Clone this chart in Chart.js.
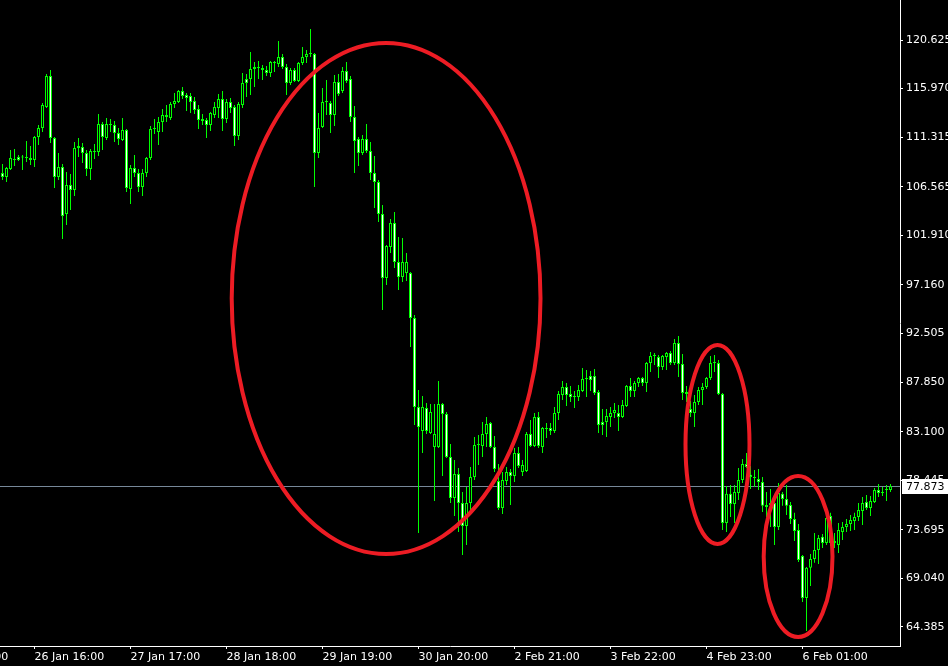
<!DOCTYPE html>
<html><head><meta charset="utf-8">
<script src="https://cdn.jsdelivr.net/npm/chart.js@4.4.1/dist/chart.umd.min.js"></script>
<style>html,body{margin:0;padding:0;background:#000;}canvas{display:block;background:#000;}</style>
</head><body>
<canvas id="c" width="948" height="666"></canvas>
<script>
const opens = [107.89,107.50,108.27,109.23,109.42,109.42,109.32,109.13,109.13,111.34,112.20,114.21,117.18,111.24,107.50,108.46,103.96,106.74,106.26,110.28,
110.38,109.80,108.27,109.99,109.90,112.58,111.24,112.49,112.49,111.72,111.05,112.01,106.35,108.37,107.89,106.55,107.89,109.32,112.10,111.81,
112.77,113.25,113.16,114.50,114.69,115.74,115.36,115.26,114.78,114.02,113.06,112.96,112.49,113.44,114.11,114.98,113.06,114.69,114.21,111.43,
114.40,116.89,116.89,118.04,117.95,117.75,117.75,117.47,118.43,118.33,119.00,118.04,116.51,117.75,116.70,118.43,119.00,119.29,119.29,109.80,
112.29,114.69,114.59,113.44,116.60,115.74,117.66,116.89,113.25,111.14,109.80,111.14,109.99,107.89,107.02,103.96,97.83,100.80,103.10,99.36,
97.92,98.31,98.31,94.00,85.47,83.17,85.37,82.98,81.64,81.64,85.76,84.80,80.68,76.75,79.05,76.27,74.07,76.27,78.76,81.83,
81.73,82.88,83.94,81.64,78.38,75.79,78.38,79.24,78.86,81.06,79.24,79.34,82.88,81.73,84.51,81.64,83.36,83.46,83.17,84.89,
86.62,87.39,86.72,86.43,86.43,87.00,88.15,88.44,88.44,86.91,84.03,84.03,84.51,84.89,84.89,84.51,85.57,87.48,87.00,87.77,
88.25,87.77,89.69,90.36,90.26,89.30,90.26,90.64,89.69,91.60,89.59,86.91,85.28,84.89,85.95,87.10,87.39,88.25,89.69,89.69,
86.72,74.36,77.14,76.18,77.23,78.48,80.01,78.96,78.67,78.57,78.28,76.08,76.08,76.27,73.97,77.14,76.66,76.08,74.74,73.69,
71.19,67.17,70.05,70.91,71.77,73.02,72.44,75.03,72.44,72.25,73.49,73.97,74.26,74.55,74.93,75.51,76.37,75.79,76.37,77.52,
77.33,77.52,77.52];
const highs = [108.75,108.46,110.09,110.19,109.61,109.61,110.95,110.47,111.43,112.49,114.59,117.37,117.75,111.34,109.80,108.75,107.98,107.79,110.86,111.24,
110.76,110.09,110.19,110.67,113.54,112.77,113.16,113.06,112.87,112.20,113.16,112.10,108.65,109.61,108.27,108.27,109.42,112.39,113.06,113.25,
114.02,114.40,114.69,115.55,115.84,116.13,115.55,115.55,115.17,114.40,113.54,113.16,113.73,114.69,115.46,115.74,114.98,115.07,114.40,114.69,
117.47,117.37,119.48,118.52,118.62,118.23,118.14,118.62,118.62,120.53,119.29,118.33,117.95,117.95,118.52,119.96,119.67,121.68,119.38,113.64,
116.03,116.80,114.78,117.28,117.37,118.04,118.52,117.18,114.31,111.34,111.53,112.58,110.86,109.51,107.22,104.82,100.99,103.48,104.15,101.76,
101.66,100.22,98.40,94.28,87.10,86.52,85.85,85.76,85.76,87.96,85.85,84.99,81.93,80.39,79.63,77.33,77.81,79.72,82.60,82.79,
84.03,84.51,84.03,82.69,80.01,79.24,79.72,79.53,81.54,81.64,80.39,83.07,84.22,84.89,84.99,83.55,83.94,83.94,85.47,87.00,
87.96,87.77,87.48,87.00,87.58,89.21,89.01,88.92,89.11,87.10,85.28,85.28,85.47,85.85,85.66,86.14,87.58,88.25,87.96,88.34,
88.34,89.78,90.74,90.64,90.45,90.45,90.74,90.83,91.98,92.27,90.55,87.48,86.04,86.62,87.39,87.77,88.34,90.36,90.45,89.97,
86.81,77.90,78.00,78.00,79.63,80.49,81.06,79.82,79.43,79.53,78.76,77.33,77.61,76.94,78.19,77.33,78.00,76.37,75.32,74.26,
71.29,70.14,71.39,73.40,73.21,73.30,75.32,75.32,73.40,74.36,74.45,74.74,75.12,75.32,76.27,76.85,77.04,76.94,77.71,78.09,
77.81,78.00,78.09];
const lows = [107.22,107.02,108.17,108.56,109.04,108.17,108.94,108.65,108.46,110.57,111.81,114.11,110.76,106.45,107.22,101.56,102.91,104.34,105.68,109.42,
108.85,107.60,107.22,109.23,109.52,110.09,111.05,111.81,110.86,110.57,110.95,106.07,104.92,107.50,106.07,105.68,107.50,109.13,111.62,110.57,
111.81,112.77,112.96,114.11,114.59,114.98,113.83,113.64,113.54,112.10,112.49,111.24,111.91,113.16,113.16,111.91,112.68,113.64,110.47,111.05,
114.11,115.17,115.36,116.13,116.89,116.80,117.18,117.08,117.56,118.04,117.85,115.36,116.32,116.60,116.60,118.23,118.43,119.00,106.55,109.32,
112.20,113.44,111.72,112.39,115.26,115.55,116.51,112.77,107.89,108.56,109.61,109.80,107.22,104.53,103.19,94.76,97.16,100.22,98.79,96.68,
97.44,97.54,91.22,83.75,73.40,81.06,82.88,82.88,76.46,81.54,78.86,80.58,76.27,75.03,73.49,71.29,72.25,75.32,78.48,79.91,
80.68,81.64,81.54,79.24,75.60,75.22,78.00,76.08,78.28,79.63,78.86,79.24,81.64,81.64,81.54,81.06,82.50,82.79,82.98,84.22,
86.14,85.57,85.95,85.37,86.04,86.91,86.43,87.00,86.62,82.98,82.79,82.60,83.55,84.42,83.17,84.42,85.47,86.43,86.43,87.39,
87.48,86.91,88.82,89.49,88.25,89.01,89.01,89.49,89.49,88.34,86.14,85.95,84.51,83.55,85.66,85.66,87.19,88.06,88.82,86.62,
73.69,73.49,74.93,74.36,76.56,78.19,79.63,77.61,77.81,77.52,75.41,74.93,73.97,72.25,73.69,75.99,75.12,74.26,72.63,70.62,
66.79,64.01,68.32,70.53,70.43,71.96,72.25,72.15,71.96,71.48,72.73,73.49,73.59,73.69,74.55,74.16,75.60,75.03,76.27,76.85,
76.94,76.46,77.33];
const closes = [107.50,108.37,109.32,109.13,109.13,109.37,109.42,109.32,111.34,112.20,114.40,117.18,111.24,107.50,108.46,103.77,106.74,106.26,110.28,110.47,
109.80,108.27,109.99,109.90,112.58,111.34,112.58,112.53,111.72,111.14,112.01,106.45,108.37,107.89,106.55,107.89,109.32,112.10,112.20,112.77,
113.44,113.44,114.50,114.78,115.74,115.26,115.07,114.69,113.92,112.96,112.87,112.49,113.64,114.21,114.98,113.06,114.69,114.11,111.43,114.50,
116.51,116.51,117.85,117.85,117.99,117.95,117.47,118.52,118.47,119.00,118.04,116.51,117.75,116.70,118.43,119.00,119.29,119.33,109.80,112.20,
114.69,114.74,113.44,116.60,115.46,117.66,116.70,113.25,110.95,109.80,111.14,109.99,107.89,107.02,103.96,97.83,100.89,103.10,99.36,97.92,
99.36,99.36,94.00,85.47,83.55,85.47,83.17,84.99,82.88,85.76,84.80,80.68,76.75,79.05,76.27,74.07,76.27,78.76,81.83,81.93,
82.88,83.84,81.64,79.53,75.79,78.48,79.24,78.86,81.06,79.82,79.91,82.88,81.73,84.51,81.73,83.46,83.46,83.17,84.89,86.72,
87.39,86.62,86.43,86.47,87.10,88.15,88.20,88.06,86.81,83.75,83.75,84.61,84.89,85.18,84.51,85.66,87.48,87.00,87.77,88.25,
87.77,89.69,90.36,90.40,89.30,90.36,90.64,89.69,91.60,89.59,86.81,86.72,84.89,85.95,87.10,87.39,88.25,89.69,89.73,86.72,
74.36,77.14,76.18,77.33,78.48,80.01,79.72,78.76,78.71,78.28,75.99,75.89,76.27,73.97,77.23,76.66,75.99,74.74,73.59,70.81,
67.17,70.05,70.91,71.77,72.92,72.44,74.84,72.44,72.63,73.69,73.97,74.26,74.64,74.93,75.60,76.27,75.79,76.46,77.52,77.23,
77.23,77.61,77.873];

const xTickIndex = [-16, 8, 32, 56, 80, 104, 128, 152, 176, 200];
const xTickLabels = ['23 Jan 15:00','26 Jan 16:00','27 Jan 17:00','28 Jan 18:00','29 Jan 19:00','30 Jan 20:00','2 Feb 21:00','3 Feb 22:00','4 Feb 23:00','6 Feb 01:00'];
const yTickValues = [120.625,115.970,111.315,106.565,101.910,97.160,92.505,87.850,83.100,78.445,73.695,69.040,64.385];
const currentPrice = 77.873;

// hand-drawn ellipses (bar index / price units)
const ellipseCx = [95.9, 178.75, 198.9];
const ellipseCy = [95.86, 81.87, 71.14];
const ellipseRx = [38.6, 8.0, 8.6];
const ellipseRy = [24.48, 9.53, 7.71];

const FONT = {family: '"DejaVu Sans"', size: 11};
const idx = opens.map((_, i) => i);

function noPad(s) {
  s.paddingLeft = 0; s.paddingRight = 0; s.paddingTop = 0; s.paddingBottom = 0;
}

const overlay = {
  id: 'overlay',
  beforeDatasetsDraw(chart) {
    const {ctx, chartArea: a, scales: {y}} = chart;
    const py = Math.round(y.getPixelForValue(currentPrice)) + 0.5;
    ctx.save();
    ctx.strokeStyle = '#778899';
    ctx.lineWidth = 1;
    ctx.beginPath();
    ctx.moveTo(a.left, py);
    ctx.lineTo(a.right, py);
    ctx.stroke();
    ctx.restore();
  },
  afterDatasetsDraw(chart) {
    const {ctx, scales: {x, y}} = chart;
    ctx.save();
    ctx.strokeStyle = 'rgb(237,28,36)';
    ctx.lineWidth = 4;
    for (let k = 0; k < ellipseCx.length; k++) {
      const cx = x.getPixelForValue(ellipseCx[k]);
      const cy = y.getPixelForValue(ellipseCy[k]);
      const rx = Math.abs(x.getPixelForValue(ellipseCx[k] + ellipseRx[k]) - cx);
      const ry = Math.abs(y.getPixelForValue(ellipseCy[k] + ellipseRy[k]) - cy);
      ctx.beginPath();
      ctx.ellipse(cx, cy, rx, ry, 0, 0, Math.PI * 2);
      ctx.stroke();
    }
    ctx.restore();
  },
  afterDraw(chart) {
    const {ctx, chartArea: a, scales: {y}} = chart;
    const py = Math.round(y.getPixelForValue(currentPrice));
    ctx.save();
    ctx.fillStyle = '#ffffff';
    ctx.fillRect(a.right + 2, py - 7, 48, 15);
    ctx.fillStyle = '#000000';
    ctx.font = '11px "DejaVu Sans"';
    ctx.textBaseline = 'middle';
    ctx.textAlign = 'left';
    ctx.fillText(currentPrice.toFixed(3), a.right + 6, py + 1);
    ctx.restore();
  }
};

new Chart(document.getElementById('c'), {
  type: 'bar',
  data: {
    datasets: [
      {
        label: 'body',
        data: idx.map(i => ({x: i, y: [opens[i], closes[i]]})),
        backgroundColor: idx.map(i => closes[i] >= opens[i] ? '#000000' : '#ffffff'),
        borderColor: '#00ff00',
        borderWidth: 1,
        borderSkipped: false,
        grouped: false,
        categoryPercentage: 1,
        barPercentage: 0.75,
        minBarLength: 1,
        inflateAmount: 0,
        order: 0
      },
      {
        label: 'wick',
        data: idx.map(i => ({x: i, y: [lows[i], highs[i]]})),
        backgroundColor: '#00ff00',
        borderWidth: 0,
        grouped: false,
        categoryPercentage: 1,
        barPercentage: 0.25,
        minBarLength: 1,
        inflateAmount: 0,
        order: 1
      }
    ]
  },
  options: {
    responsive: false,
    animation: false,
    devicePixelRatio: 1,
    events: [],
    layout: {padding: 0, autoPadding: false},
    plugins: {legend: {display: false}, tooltip: {enabled: false}},
    scales: {
      x: {
        type: 'linear',
        min: -0.625,
        max: 224.375,
        offset: false,
        afterBuildTicks: s => { s.ticks = xTickIndex.map(v => ({value: v})); },
        afterFit: s => { s.height = 20; noPad(s); },
        ticks: {
          autoSkip: false, maxRotation: 0, minRotation: 0, align: 'start',
          color: '#ffffff', font: FONT, padding: 2,
          callback: v => { const k = xTickIndex.indexOf(v); return k >= 0 ? xTickLabels[k] : ''; }
        },
        grid: {drawOnChartArea: false, drawTicks: true, tickLength: 3, color: '#ffffff', offset: false},
        border: {display: true, color: '#ffffff', width: 1}
      },
      y: {
        type: 'linear',
        position: 'right',
        min: 62.5645,
        max: 124.4575,
        afterBuildTicks: s => { s.ticks = yTickValues.map(v => ({value: v})); },
        afterFit: s => { s.width = 48; noPad(s); },
        ticks: {autoSkip: false, color: '#ffffff', font: FONT, padding: 3, callback: v => v.toFixed(3)},
        grid: {drawOnChartArea: false, drawTicks: true, tickLength: 3, color: '#ffffff'},
        border: {display: true, color: '#ffffff', width: 1}
      }
    }
  },
  plugins: [overlay]
});
</script>
</body></html>
